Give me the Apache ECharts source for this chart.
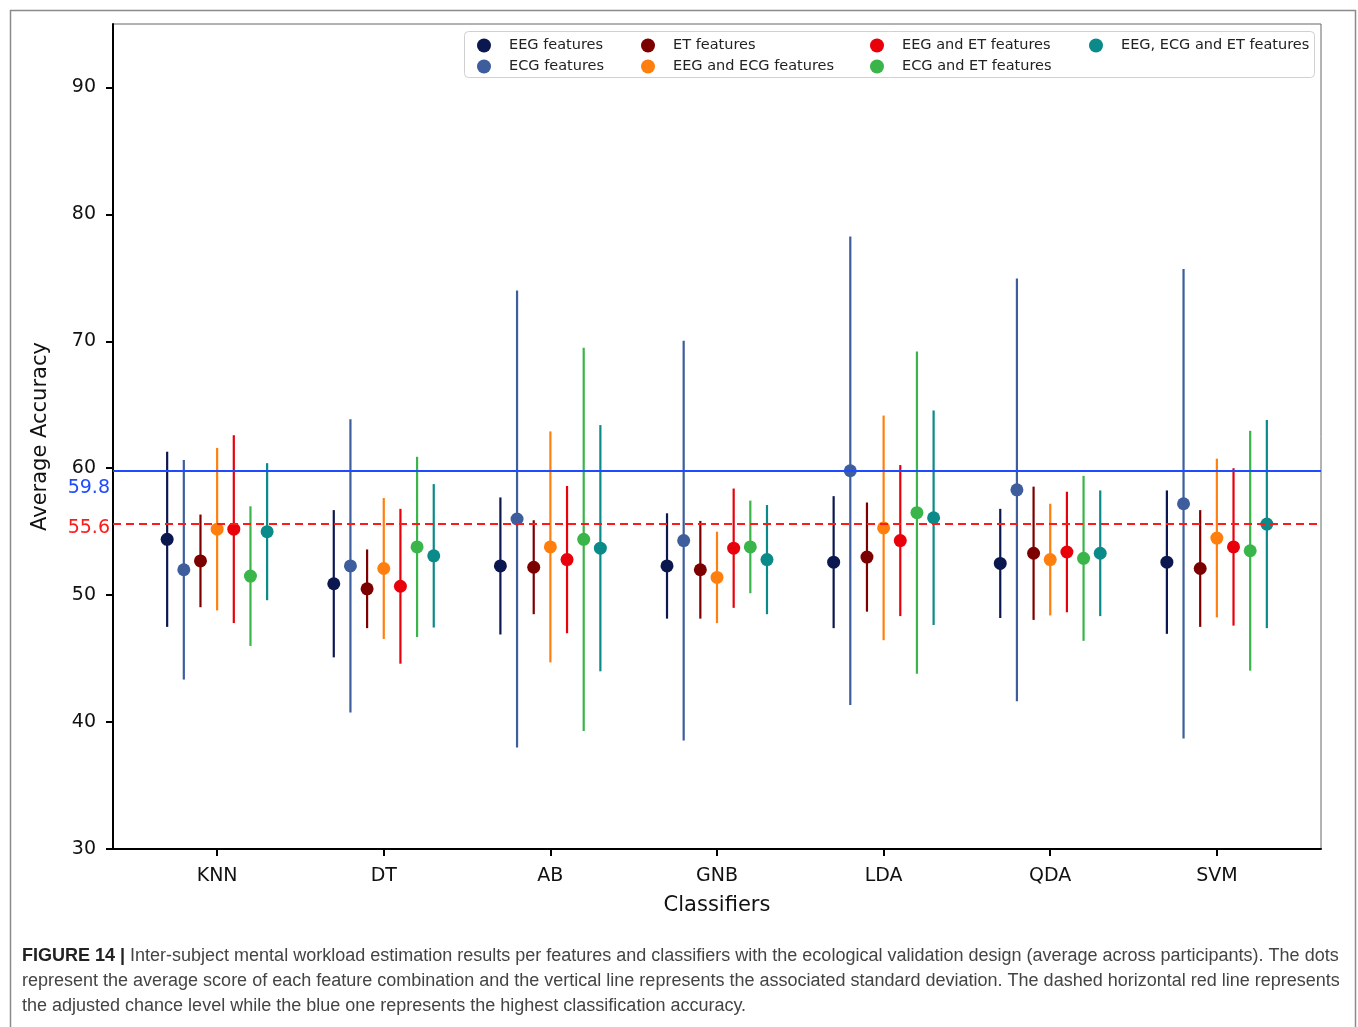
<!DOCTYPE html>
<html>
<head>
<meta charset="utf-8">
<script src="https://cdn.jsdelivr.net/npm/echarts@6/dist/echarts.min.js"></script>
<style>
  html, body { margin: 0; padding: 0; background: #fff; }
  #main { width: 1358px; height: 1027px; }
</style>
</head>
<body>
<div id="main"></div>
<script>
var classifiers = ['KNN', 'DT', 'AB', 'GNB', 'LDA', 'QDA', 'SVM'];
var yTicks = [30, 40, 50, 60, 70, 80, 90];

var featureNames = ['EEG features', 'ECG features', 'ET features', 'EEG and ECG features',
                    'EEG and ET features', 'ECG and ET features', 'EEG, ECG and ET features'];

// mean accuracy per classifier
var eegMean    = [54.4, 50.9, 52.3, 52.3, 52.6, 52.5, 52.6];
var ecgMean    = [52.0, 52.3, 56.0, 54.3, 59.8, 58.3, 57.2];
var etMean     = [52.7, 50.5, 52.2, 52.0, 53.0, 53.3, 52.1];
var eegEcgMean = [55.2, 52.1, 53.8, 51.4, 55.3, 52.8, 54.5];
var eegEtMean  = [55.2, 50.7, 52.8, 53.7, 54.3, 53.4, 53.8];
var ecgEtMean  = [51.5, 53.8, 54.4, 53.8, 56.5, 52.9, 53.5];
var allMean    = [55.0, 53.1, 53.7, 52.8, 56.1, 53.3, 55.6];

// standard deviations
var eegStd    = [6.9, 5.8, 5.4, 4.15, 5.2, 4.3, 5.65];
var ecgStd    = [8.65, 11.55, 18.0, 15.75, 18.45, 16.65, 18.5];
var etStd     = [3.65, 3.1, 3.7, 3.85, 4.3, 5.25, 4.6];
var eegEcgStd = [6.4, 5.55, 9.1, 3.6, 8.85, 4.4, 6.25];
var eegEtStd  = [7.4, 6.1, 5.8, 4.7, 5.95, 4.75, 6.2];
var ecgEtStd  = [5.5, 7.1, 15.1, 3.65, 12.7, 6.5, 9.45];
var allStd    = [5.4, 5.65, 9.7, 4.3, 8.45, 4.95, 8.2];

var chanceLevel = 55.6;
var bestAccuracy = 59.8;

var means = [eegMean, ecgMean, etMean, eegEcgMean, eegEtMean, ecgEtMean, allMean];
var stds = [eegStd, ecgStd, etStd, eegEcgStd, eegEtStd, ecgEtStd, allStd];
var colors = ['#0b1850', '#3d5d9c', '#7d0000', '#ff7f0e', '#e8000b', '#3ab54a', '#0b8a8a'];

var chart = echarts.init(document.getElementById('main'));

function errorBar(color) {
    return function (params, api) {
        var x = api.value(0), m = api.value(1), s = api.value(2);
        var top = api.coord([x, m + s]);
        var bot = api.coord([x, m - s]);
        var c = api.coord([x, m]);
        return {
            type: 'group',
            children: [
                { type: 'line', shape: { x1: top[0], y1: top[1], x2: bot[0], y2: bot[1] },
                  style: { stroke: color, lineWidth: 2.2 } },
                { type: 'circle', shape: { cx: c[0], cy: c[1], r: 6.5 },
                  style: { fill: color } }
            ]
        };
    };
}

var series = [];
featureNames.forEach(function (name, i) {
    var data = [];
    classifiers.forEach(function (c, j) {
        data.push([j + (i - 3) * 0.1, means[i][j], stds[i][j]]);
    });
    var s = {
        name: name,
        type: 'custom',
        renderItem: errorBar(colors[i]),
        itemStyle: { color: colors[i] },
        encode: { x: 0, y: 1 },
        data: data,
        z: 3
    };
    if (i === 0) {
        s.markLine = {
            silent: true,
            symbol: 'none',
            data: [
                { yAxis: bestAccuracy,
                  lineStyle: { color: '#1f4bff', width: 2, type: 'solid' },
                  label: { show: true, position: 'start', distance: 3, offset: [0, 17],
                           formatter: String(bestAccuracy), color: '#1f4bff',
                           fontSize: 19, fontFamily: 'DejaVu Sans' } },
                { yAxis: chanceLevel,
                  lineStyle: { color: '#ff1a1a', width: 2, type: [8, 5] },
                  label: { show: true, position: 'start', distance: 3, offset: [0, 4],
                           formatter: String(chanceLevel), color: '#ff1a1a',
                           fontSize: 19, fontFamily: 'DejaVu Sans' } }
            ]
        };
    }
    series.push(s);
});

// legend laid out column by column, like the original
var legendCols = [472, 636, 865, 1084];
var legendRows = [33, 54];
var legends = featureNames.map(function (name, i) {
    return {
        data: [{ name: name, icon: 'circle' }],
        left: legendCols[Math.floor(i / 2)],
        top: legendRows[i % 2],
        itemWidth: 40,
        itemHeight: 14,
        symbolKeepAspect: true,
        selectedMode: false,
        textStyle: { fontFamily: 'DejaVu Sans', fontSize: 14.5, color: '#222' }
    };
});

var option = {
    animation: false,
    backgroundColor: '#fff',
    grid: {
        left: 113, right: 37, top: 24, bottom: 178,
        show: true, borderColor: '#666', borderWidth: 1
    },
    legend: legends,
    xAxis: {
        type: 'value',
        min: -0.625,
        max: 6.625,
        name: 'Classifiers',
        nameLocation: 'middle',
        nameGap: 46,
        nameTextStyle: { fontFamily: 'DejaVu Sans', fontSize: 21, color: '#111' },
        axisLine: { onZero: false, lineStyle: { color: '#000', width: 2 } },
        axisTick: { show: true, length: 7, lineStyle: { color: '#000', width: 2 },
                    customValues: [0, 1, 2, 3, 4, 5, 6] },
        axisLabel: { customValues: [0, 1, 2, 3, 4, 5, 6], margin: 18,
                     fontFamily: 'DejaVu Sans', fontSize: 19, color: '#111',
                     formatter: function (v) { return classifiers[Math.round(v)]; } },
        splitLine: { show: false }
    },
    yAxis: {
        type: 'value',
        min: 30,
        max: 95,
        interval: 10,
        name: 'Average Accuracy',
        nameLocation: 'middle',
        nameGap: 62,
        nameTextStyle: { fontFamily: 'DejaVu Sans', fontSize: 21, color: '#111' },
        axisLine: { show: true, onZero: false, lineStyle: { color: '#000', width: 2 } },
        axisTick: { show: true, length: 7, lineStyle: { color: '#000', width: 2 },
                    customValues: yTicks },
        axisLabel: { customValues: yTicks, margin: 17,
                     fontFamily: 'DejaVu Sans', fontSize: 19, color: '#111' },
        splitLine: { show: false }
    },
    graphic: [
        { type: 'rect', left: 8, top: 8, z: -10,
          shape: { width: 1345, height: 1030 },
          style: { fill: 'none', stroke: '#8a8a8a', lineWidth: 1.5 } },
        { type: 'rect', left: 464, top: 31, z: 1,
          shape: { width: 850, height: 46, r: 4 },
          style: { fill: '#fff', stroke: '#d0d0d0', lineWidth: 1 } },
        { type: 'text', left: 22, top: 947,
          style: { text: '{b|FIGURE 14 |} Inter-subject mental workload estimation results per features and classifiers with the ecological validation design (average across participants). The dots',
                   font: '18px "Liberation Sans"', fill: '#444',
                   rich: { b: { font: 'bold 18px "Liberation Sans"', fill: '#222' } } } },
        { type: 'text', left: 22, top: 972,
          style: { text: 'represent the average score of each feature combination and the vertical line represents the associated standard deviation. The dashed horizontal red line represents',
                   font: '18px "Liberation Sans"', fill: '#444' } },
        { type: 'text', left: 22, top: 997,
          style: { text: 'the adjusted chance level while the blue one represents the highest classification accuracy.',
                   font: '18px "Liberation Sans"', fill: '#444' } }
    ],
    series: series
};

chart.setOption(option);
</script>
</body>
</html>
